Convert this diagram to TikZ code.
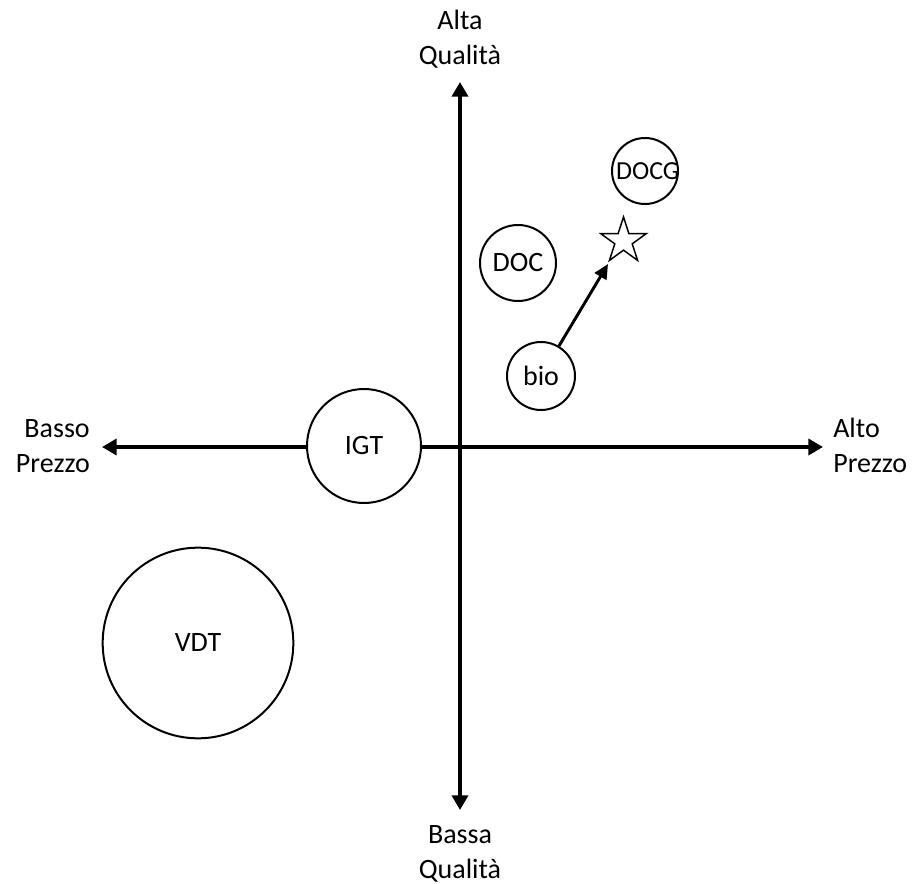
\documentclass[tikz,border=0pt]{standalone}
\usepackage{fontspec}
\setmainfont{Carlito}
\usetikzlibrary{arrows.meta,shapes.geometric}

\begin{document}
\begin{tikzpicture}[x=0.75pt, y=-0.75pt,
      every node/.style={font=\fontsize{21}{26.25}\selectfont},
      axis/.style={line width=3.5pt, {Triangle[length=11pt,width=12pt]}-{Triangle[length=11pt,width=12pt]}},
      disc/.style={circle, draw, line width=1.5pt, fill=white, inner sep=0pt},
      pointer/.style={line width=2.2pt, -{Triangle[length=11pt,width=10pt]}}]
      \useasboundingbox (0,0) rectangle (914,884);
      % axes
      \coordinate (west) at (102,447);
      \coordinate (east) at (823,447);
      \coordinate (north) at (460,82);
      \coordinate (south) at (460,810);
      \draw[axis] (west) -- (east);
      \draw[axis] (north) -- (south);
      % base of a two-line node sits on its last line
      \node[align=center, anchor=base] (quality hi) at (460,65) {Alta\\Qualità};
      \node[align=center, anchor=base] (quality lo) at (460,878) {Bassa\\Qualità};
      \node[align=right, anchor=base east, inner sep=0pt] (price lo) at (90,472) {Basso\\Prezzo};
      \node[align=left, anchor=base west, inner sep=0pt] (price hi) at (833,472) {Alto\\Prezzo};
      % categories
      \node[disc, minimum size=143pt] (vdt) at (198,643) {VDT};
      \node[disc, minimum size=85.5pt] (igt) at (364,446) {IGT};
      \node[disc, minimum size=51pt] (bio) at (541,376) {bio};
      \node[disc, minimum size=57pt] (doc) at (518,263) {DOC};
      \node[disc, minimum size=49.5pt,
        label={[font=\fontsize{19.5}{23}\selectfont, xshift=2pt]center:DOCG}] (docg) at (645,171) {};
      \node[star, star points=5, star point ratio=2.618, draw, line width=1.1pt,
        minimum size=36pt, inner sep=0pt] (star) at (623.5,241) {};
      \coordinate (tip) at (608,264);
      \draw[pointer] (bio) -- (tip);
    \end{tikzpicture}
\end{document}
